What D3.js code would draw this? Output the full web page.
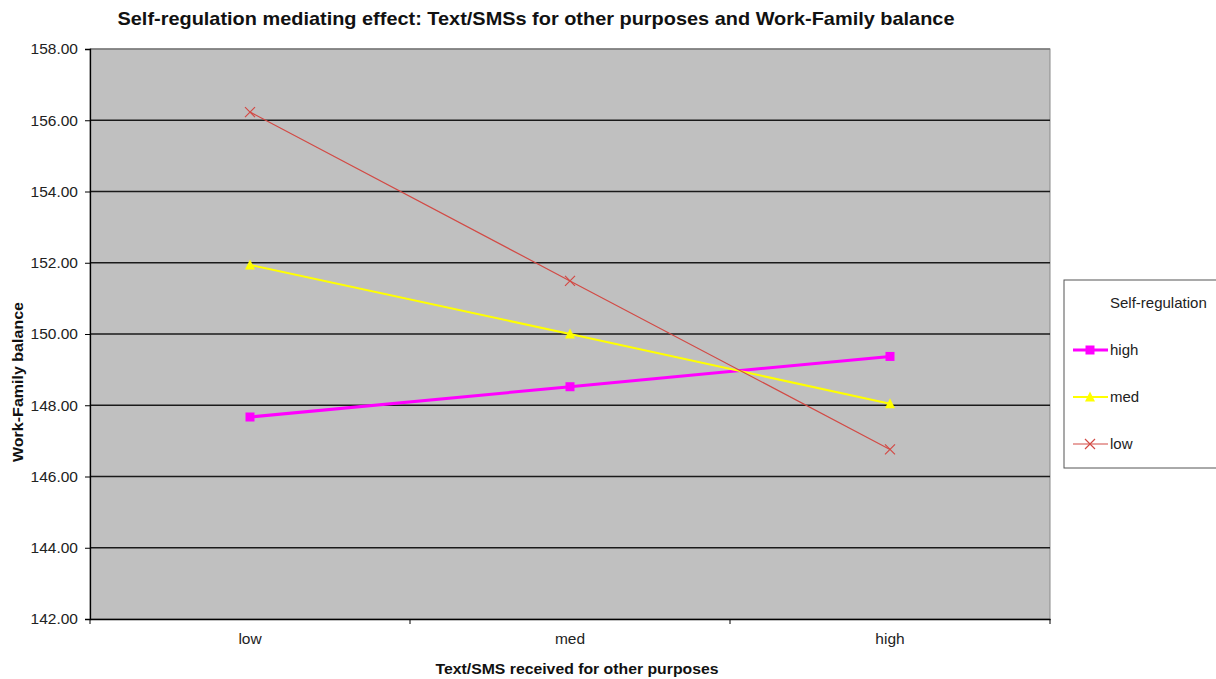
<!DOCTYPE html>
<html>
<head>
<meta charset="utf-8">
<script src="https://cdn.jsdelivr.net/npm/d3@7"></script>
<style>
  html, body { margin: 0; padding: 0; background: #fff; }
  svg { display: block; font-family: "Liberation Sans", Arial, sans-serif; }
</style>
</head>
<body>
<svg id="chart" width="1216" height="679"></svg>
<script>
// Categories on the x axis
const categories = ["low", "med", "high"];

// Series: Self-regulation level
const seriesNames = ["high", "med", "low"];
const highValues = [147.67, 148.52, 149.37];
const medValues = [151.94, 150.00, 148.04];
const lowValues = [156.23, 151.49, 146.76];

// Y ticks
const yTicks = [142, 144, 146, 148, 150, 152, 154, 156, 158];

const series = [
  { name: seriesNames[0], values: highValues, color: "#ff00ff", width: 3, marker: "square" },
  { name: seriesNames[1], values: medValues, color: "#ffff00", width: 2, marker: "triangle" },
  { name: seriesNames[2], values: lowValues, color: "#d24a45", width: 1.2, marker: "cross" }
];

const svg = d3.select("#chart");
const m = { left: 90, right: 1050, top: 49, bottom: 619 };

const x = d3.scaleBand().domain(categories).range([m.left, m.right]);
const y = d3.scaleLinear().domain([142, 158]).range([m.bottom, m.top]);
const cx = d => x(d) + x.bandwidth() / 2;

// Plot area
svg.append("rect")
  .attr("x", m.left).attr("y", m.top)
  .attr("width", m.right - m.left).attr("height", m.bottom - m.top)
  .attr("fill", "#c0c0c0")
  .attr("stroke", "#8a8a8a").attr("stroke-width", 1);

// Gridlines
svg.append("g").selectAll("line")
  .data(yTicks.filter(t => t !== 142))
  .join("line")
  .attr("x1", m.left).attr("x2", m.right)
  .attr("y1", d => y(d)).attr("y2", d => y(d))
  .attr("stroke", d => d === 158 ? "#7a7a7a" : "#1a1a1a")
  .attr("stroke-width", 1.3);

// Y axis
const yAxis = d3.axisLeft(y).tickValues(yTicks).tickFormat(d3.format(".2f")).tickSize(5).tickPadding(7);
const gy = svg.append("g").attr("transform", `translate(${m.left},0)`).call(yAxis);
gy.select(".domain").attr("stroke", "#000").attr("stroke-width", 1.3);
gy.selectAll(".tick line").attr("stroke", "#000");
gy.selectAll(".tick text").attr("font-size", 15.5).attr("fill", "#222");

// X axis
const xAxis = d3.axisBottom(x).tickSize(0).tickPadding(14);
const gx = svg.append("g").attr("transform", `translate(0,${m.bottom})`).call(xAxis);
gx.select(".domain").attr("stroke", "#000").attr("stroke-width", 1.3);
gx.selectAll(".tick text").attr("font-size", 15.5).attr("fill", "#222");
// Category boundary ticks
svg.append("g").selectAll("line")
  .data(categories.concat(["__end"]))
  .join("line")
  .attr("x1", (d, i) => i < categories.length ? x(d) : m.right)
  .attr("x2", (d, i) => i < categories.length ? x(d) : m.right)
  .attr("y1", m.bottom).attr("y2", m.bottom + 5)
  .attr("stroke", "#000");

// Lines
const line = d3.line().x((d, i) => cx(categories[i])).y(d => y(d));
series.forEach(s => {
  svg.append("path")
    .datum(s.values)
    .attr("d", line)
    .attr("fill", "none")
    .attr("stroke", s.color)
    .attr("stroke-width", s.width);
});

function drawMarker(g, type, color, px, py, size) {
  if (type === "square") {
    g.append("rect").attr("x", px - size / 2).attr("y", py - size / 2)
      .attr("width", size).attr("height", size).attr("fill", color);
  } else if (type === "triangle") {
    const h = size;
    g.append("path")
      .attr("d", `M${px},${py - h / 2 - 1}L${px + h / 2 + 0.5},${py + h / 2}L${px - h / 2 - 0.5},${py + h / 2}Z`)
      .attr("fill", color);
  } else {
    const r = size / 2;
    g.append("path")
      .attr("d", `M${px - r},${py - r}L${px + r},${py + r}M${px - r},${py + r}L${px + r},${py - r}`)
      .attr("stroke", color).attr("stroke-width", 1.2).attr("fill", "none");
  }
}

// Markers
series.forEach(s => {
  const g = svg.append("g");
  s.values.forEach((v, i) => drawMarker(g, s.marker, s.color, cx(categories[i]), y(v), s.marker === "cross" ? 10 : 9));
});

// Title
svg.append("text")
  .attr("x", 536).attr("y", 25)
  .attr("text-anchor", "middle")
  .attr("font-size", 19).attr("font-weight", "bold").attr("fill", "#111")
  .attr("textLength", 837).attr("lengthAdjust", "spacingAndGlyphs")
  .text("Self-regulation mediating effect:  Text/SMSs for other purposes and Work-Family  balance");

// Axis titles
svg.append("text")
  .attr("x", 577).attr("y", 674)
  .attr("text-anchor", "middle")
  .attr("font-size", 15).attr("font-weight", "bold").attr("fill", "#111")
  .attr("textLength", 283).attr("lengthAdjust", "spacingAndGlyphs")
  .text("Text/SMS received for other purposes");

svg.append("text")
  .attr("transform", "translate(23,382) rotate(-90)")
  .attr("text-anchor", "middle")
  .attr("font-size", 15).attr("font-weight", "bold").attr("fill", "#111")
  .attr("textLength", 160).attr("lengthAdjust", "spacingAndGlyphs")
  .text("Work-Family  balance");

// Legend
const lg = svg.append("g");
lg.append("rect")
  .attr("x", 1064).attr("y", 280).attr("width", 160).attr("height", 188)
  .attr("fill", "#fff").attr("stroke", "#555").attr("stroke-width", 1);
lg.append("text")
  .attr("x", 1110).attr("y", 308)
  .attr("font-size", 15).attr("fill", "#222")
  .text("Self-regulation");
series.forEach((s, i) => {
  const ly = 350 + i * 47;
  lg.append("line")
    .attr("x1", 1073).attr("x2", 1108).attr("y1", ly).attr("y2", ly)
    .attr("stroke", s.color).attr("stroke-width", s.width);
  drawMarker(lg, s.marker, s.color, 1090, ly, s.marker === "cross" ? 10 : 9);
  lg.append("text")
    .attr("x", 1110).attr("y", ly + 5)
    .attr("font-size", 15).attr("fill", "#222")
    .text(s.name);
});
</script>
</body>
</html>
